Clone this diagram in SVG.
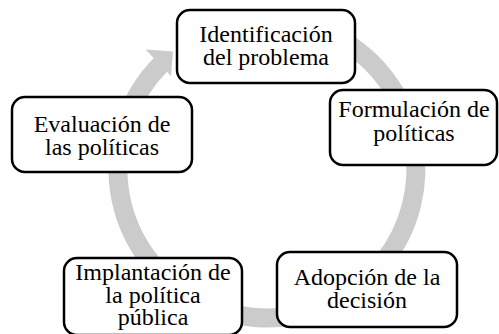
<svg xmlns="http://www.w3.org/2000/svg" width="499" height="334" viewBox="0 0 499 334">
  <style>
    .box { fill: #ffffff; stroke: #000000; stroke-width: 2.5; }
    .lbl { font-family: "Liberation Serif", "Times New Roman", serif; font-size: 24px; fill: #000000; text-anchor: middle; }
    .ring { fill: none; stroke: #cbcbcb; stroke-width: 19; }
    .head { fill: #cbcbcb; stroke: none; }
  </style>
  <rect width="499" height="334" fill="#ffffff"/>
  <g id="connectors">
    <path class="ring" d="M 265,20 A 149 149 0 1 1 160.6,64.6"/>
    <polygon class="head" points="145.5,49.5 171,76 173,51.5"/>
  </g>
  <g id="node-identificacion">
    <rect class="box" x="177" y="10" width="178" height="73" rx="13" ry="13"/>
    <text class="lbl" x="266" y="41.5">Identificación</text>
    <text class="lbl" x="266" y="64.5">del problema</text>
  </g>
  <g id="node-formulacion">
    <rect class="box" x="330" y="90" width="167" height="75" rx="13" ry="13"/>
    <text class="lbl" x="414" y="116.5">Formulación de</text>
    <text class="lbl" x="414" y="140.5">políticas</text>
  </g>
  <g id="node-adopcion">
    <rect class="box" x="277" y="252" width="180" height="75" rx="13" ry="13"/>
    <text class="lbl" x="367" y="285">Adopción de la</text>
    <text class="lbl" x="367" y="308">decisión</text>
  </g>
  <g id="node-implantacion">
    <rect class="box" x="64" y="258" width="178" height="77" rx="13" ry="13"/>
    <text class="lbl" x="153" y="280">Implantación de</text>
    <text class="lbl" x="153" y="302.5">la política</text>
    <text class="lbl" x="153" y="325">pública</text>
  </g>
  <g id="node-evaluacion">
    <rect class="box" x="12" y="97" width="180" height="75" rx="13" ry="13"/>
    <text class="lbl" x="102" y="131.5">Evaluación de</text>
    <text class="lbl" x="102" y="155">las políticas</text>
  </g>
</svg>
